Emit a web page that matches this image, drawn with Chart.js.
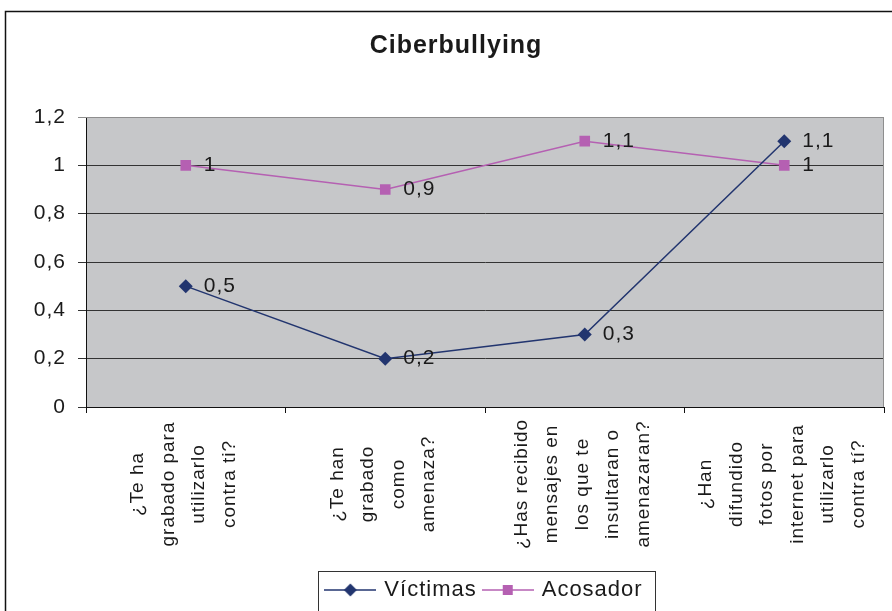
<!DOCTYPE html>
<html>
<head>
<meta charset="utf-8">
<title>Ciberbullying</title>
<script src="https://cdn.jsdelivr.net/npm/chart.js@4"></script>
<style>
    html, body { margin: 0; padding: 0; background: #fff; }
</style>
</head>
<body>
<canvas id="myChart" width="892" height="611"></canvas>
<script>
// datos del grafico
const categorias = [
    ['¿Te ha', 'grabado para', 'utilizarlo', 'contra ti?'],
    ['¿Te han', 'grabado', 'como', 'amenaza?'],
    ['¿Has recibido', 'mensajes en', 'los que te', 'insultaran o', 'amenazaran?'],
    ['¿Han', 'difundido', 'fotos por', 'internet para', 'utilizarlo', 'contra tí?']
];
const victimas = [0.5, 0.2, 0.3, 1.1];
const acosador = [1, 0.9, 1.1, 1];
const ticksY = [0, 0.2, 0.4, 0.6, 0.8, 1, 1.2];

const azul = '#22356F';
const rosa = '#B560B2';
const fuente = 'Arial, "Liberation Sans", sans-serif';
const espaciado = '1px';

// formato con coma decimal
const conComa = (v) => String(Math.round(v * 10) / 10).replace('.', ',');

// icono de la leyenda: linea con el marcador en medio
function iconoLeyenda(color, forma) {
    const c = document.createElement('canvas');
    c.width = 52;
    c.height = 14;
    const g = c.getContext('2d');
    g.strokeStyle = color;
    g.lineWidth = 1.5;
    g.beginPath();
    g.moveTo(0, 7);
    g.lineTo(52, 7);
    g.stroke();
    g.fillStyle = color;
    g.beginPath();
    if (forma === 'rombo') {
        g.moveTo(26, 0.5); g.lineTo(32.5, 7); g.lineTo(26, 13.5); g.lineTo(19.5, 7);
    } else {
        g.rect(21, 2, 10, 10);
    }
    g.closePath();
    g.fill();
    return c;
}
const iconos = [iconoLeyenda(azul, 'rombo'), iconoLeyenda(rosa, 'cuadrado')];

// fondo, marco exterior y zona gris del grafico
const fondo = {
    id: 'fondo',
    beforeUpdate(chart) {
        chart.ctx.letterSpacing = espaciado;
    },
    beforeDraw(chart) {
        const ctx = chart.ctx;
        const a = chart.chartArea;
        ctx.letterSpacing = espaciado;
        ctx.save();
        ctx.fillStyle = '#fff';
        ctx.fillRect(0, 0, chart.width, chart.height);
        ctx.strokeStyle = '#111';
        ctx.lineWidth = 1.5;
        ctx.strokeRect(5.5, 11.5, chart.width + 20, chart.height + 20);
        ctx.fillStyle = '#C6C7C9';
        ctx.fillRect(a.left, a.top, a.right - a.left, a.bottom - a.top);
        ctx.restore();
    },
    beforeDatasetsDraw(chart) {
        const ctx = chart.ctx;
        const a = chart.chartArea;
        ctx.save();
        ctx.strokeStyle = '#8E8E8E';
        ctx.lineWidth = 1;
        ctx.beginPath();
        ctx.moveTo(a.left, a.top + 0.5);
        ctx.lineTo(a.right - 0.5, a.top + 0.5);
        ctx.lineTo(a.right - 0.5, a.bottom);
        ctx.stroke();
        ctx.restore();
    }
};

// valores junto a cada punto
const etiquetasDatos = {
    id: 'etiquetasDatos',
    afterDatasetsDraw(chart) {
        const ctx = chart.ctx;
        ctx.save();
        ctx.font = '21px ' + fuente;
        ctx.fillStyle = '#1a1a1a';
        ctx.textAlign = 'left';
        ctx.textBaseline = 'middle';
        chart.data.datasets.forEach((ds, i) => {
            chart.getDatasetMeta(i).data.forEach((pt, j) => {
                ctx.fillText(conComa(ds.data[j]), pt.x + 18, pt.y);
            });
        });
        ctx.restore();
    }
};

// etiquetas de categoria verticales, varias columnas centradas
const etiquetasCategorias = {
    id: 'etiquetasCategorias',
    afterDraw(chart) {
        const esc = chart.scales.x;
        const ctx = chart.ctx;
        ctx.save();
        ctx.font = '19px ' + fuente;
        ctx.fillStyle = '#1a1a1a';
        ctx.textAlign = 'center';
        ctx.textBaseline = 'middle';
        categorias.forEach((lineas, i) => {
            const cx = esc.getPixelForTick(i);
            lineas.forEach((t, j) => {
                ctx.save();
                ctx.translate(cx - 2 + (j - (lineas.length - 1) / 2) * 30.5, esc.top + 77);
                ctx.rotate(-Math.PI / 2);
                ctx.fillText(t, 0, 0);
                ctx.restore();
            });
        });
        ctx.restore();
    }
};

// recuadro de la leyenda
const marcoLeyenda = {
    id: 'marcoLeyenda',
    afterDraw(chart) {
        const cajas = chart.legend.legendHitBoxes;
        if (!cajas || !cajas.length) return;
        const ctx = chart.ctx;
        const ultima = cajas[cajas.length - 1];
        const x1 = Math.round(cajas[0].left - 9) + 0.5;
        const x2 = Math.round(ultima.left + ultima.width + 12) + 0.5;
        const y1 = Math.round(cajas[0].top - 8) + 0.5;
        ctx.save();
        ctx.strokeStyle = '#333';
        ctx.lineWidth = 1;
        ctx.strokeRect(x1, y1, x2 - x1, chart.height - y1 + 10);
        ctx.restore();
    }
};

const data = {
    labels: categorias,
    datasets: [{
        label: 'Víctimas',
        data: victimas,
        borderColor: azul,
        backgroundColor: azul,
        borderWidth: 1.5,
        pointStyle: 'rectRot',
        pointRadius: 7,
        pointBorderWidth: 0,
        tension: 0
    }, {
        label: 'Acosador',
        data: acosador,
        borderColor: rosa,
        backgroundColor: rosa,
        borderWidth: 1.5,
        pointStyle: 'rect',
        pointRadius: 7.5,
        pointBorderWidth: 0,
        tension: 0
    }]
};

const options = {
    responsive: false,
    animation: false,
    devicePixelRatio: 1,
    layout: {
        padding: { top: 0, left: 28, right: 8, bottom: 0 }
    },
    scales: {
        x: {
            type: 'category',
            offset: true,
            grid: {
                offset: true,
                drawOnChartArea: false,
                tickLength: 6,
                color: '#111'
            },
            border: { color: '#111', width: 1 },
            ticks: { display: false },
            afterFit: (s) => { s.height = 164; }
        },
        y: {
            min: 0,
            max: 1.2,
            afterBuildTicks: (s) => { s.ticks = ticksY.map(v => ({ value: v })); },
            grid: {
                tickLength: 8,
                color: (c) => (c.tick && c.tick.value === 1.2) ? '#8E8E8E' : '#333',
                lineWidth: 1
            },
            border: { color: '#111', width: 1 },
            ticks: {
                padding: 12,
                color: '#1a1a1a',
                font: { size: 21, family: fuente },
                callback: (v) => conComa(v)
            },
            afterFit: (s) => { s.width = 58; }
        }
    },
    plugins: {
        title: {
            display: true,
            text: 'Ciberbullying',
            color: '#1a1a1a',
            font: { size: 25, weight: 'bold', family: fuente },
            padding: { top: 31, bottom: 56 }
        },
        legend: {
            display: true,
            position: 'bottom',
            fullSize: false,
            labels: {
                usePointStyle: true,
                pointStyleWidth: 46,
                padding: 8,
                color: '#1a1a1a',
                font: { size: 22, family: fuente },
                generateLabels: (chart) => chart.data.datasets.map((ds, i) => ({
                    text: ds.label,
                    pointStyle: iconos[i],
                    fillStyle: ds.borderColor,
                    strokeStyle: ds.borderColor,
                    lineWidth: 0,
                    fontColor: '#1a1a1a',
                    hidden: false,
                    datasetIndex: i
                }))
            }
        },
        tooltip: { enabled: false }
    }
};

const config = {
    type: 'line',
    data: data,
    options: options,
    plugins: [fondo, etiquetasDatos, etiquetasCategorias, marcoLeyenda]
};

const myChart = new Chart(document.getElementById('myChart'), config);
</script>
</body>
</html>
